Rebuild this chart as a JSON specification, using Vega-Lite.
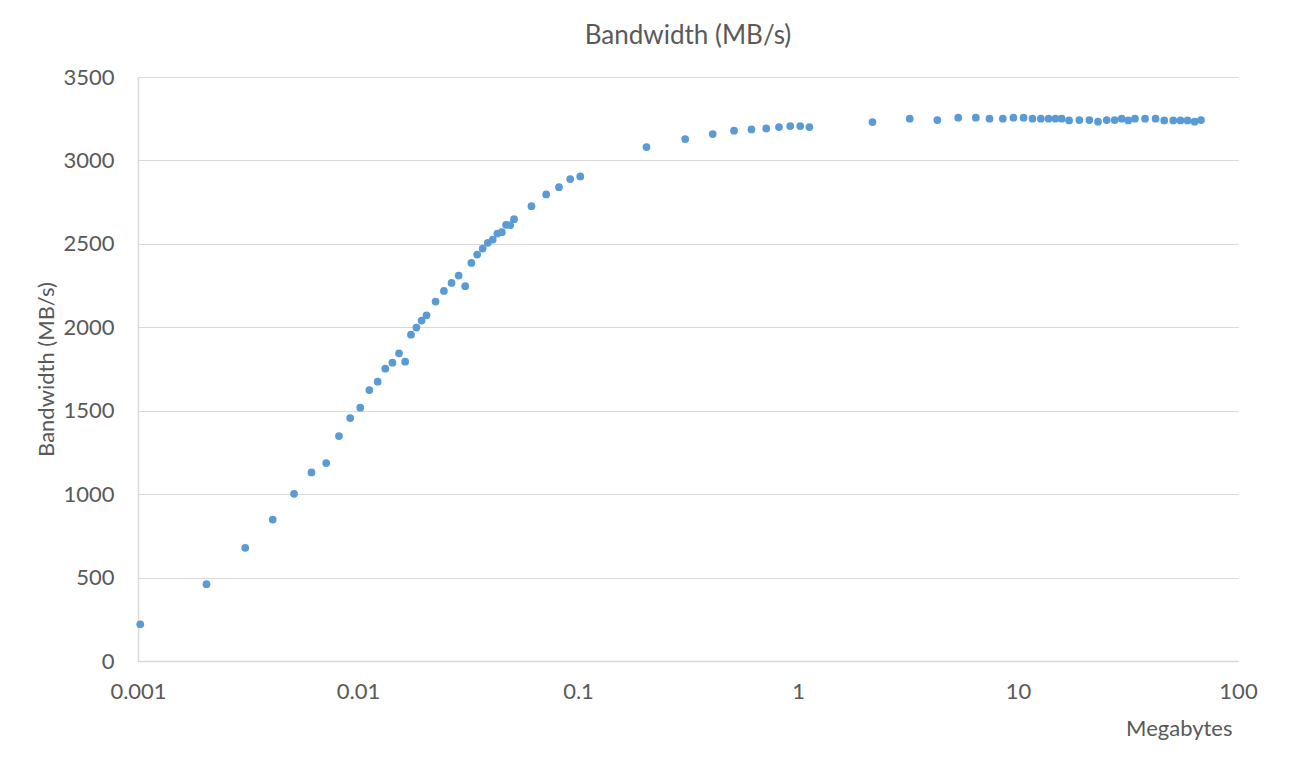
{
  "$schema": "https://vega.github.io/schema/vega-lite/v6.json",
  "autosize": {"type": "none"},
  "padding": {"left": 138, "top": 77, "right": 74, "bottom": 97},
  "width": 1100,
  "height": 584,
  "background": "white",
  "config": {
    "font": "Lato",
    "view": {"stroke": null},
    "axis": {"labelColor": "#595959", "titleColor": "#595959", "labelFont": "Lato", "titleFont": "Lato", "titleFontWeight": "normal"},
    "title": {"color": "#595959", "font": "Lato", "fontWeight": "normal"}
  },
  "title": {"text": "Bandwidth (MB/s)", "fontSize": 26, "anchor": "middle", "offset": 17},
  "data": {"values": [
    {"mb": 0.001024, "bw": 220},
    {"mb": 0.002048, "bw": 460},
    {"mb": 0.003072, "bw": 678},
    {"mb": 0.004096, "bw": 848},
    {"mb": 0.00512, "bw": 1002},
    {"mb": 0.006144, "bw": 1130},
    {"mb": 0.007168, "bw": 1186},
    {"mb": 0.008192, "bw": 1348},
    {"mb": 0.009216, "bw": 1456},
    {"mb": 0.01024, "bw": 1518},
    {"mb": 0.011264, "bw": 1624},
    {"mb": 0.012288, "bw": 1674},
    {"mb": 0.013312, "bw": 1752},
    {"mb": 0.014336, "bw": 1788},
    {"mb": 0.01536, "bw": 1844},
    {"mb": 0.016384, "bw": 1794},
    {"mb": 0.017408, "bw": 1956},
    {"mb": 0.018432, "bw": 1998},
    {"mb": 0.019456, "bw": 2040},
    {"mb": 0.02048, "bw": 2072},
    {"mb": 0.022528, "bw": 2154},
    {"mb": 0.024576, "bw": 2218},
    {"mb": 0.026624, "bw": 2266},
    {"mb": 0.028672, "bw": 2310},
    {"mb": 0.03072, "bw": 2246},
    {"mb": 0.032768, "bw": 2386},
    {"mb": 0.034816, "bw": 2436},
    {"mb": 0.036864, "bw": 2472},
    {"mb": 0.038912, "bw": 2506},
    {"mb": 0.04096, "bw": 2526},
    {"mb": 0.043008, "bw": 2562},
    {"mb": 0.045056, "bw": 2570},
    {"mb": 0.047104, "bw": 2614},
    {"mb": 0.049152, "bw": 2612},
    {"mb": 0.0512, "bw": 2648},
    {"mb": 0.06144, "bw": 2726},
    {"mb": 0.07168, "bw": 2796},
    {"mb": 0.08192, "bw": 2840},
    {"mb": 0.09216, "bw": 2888},
    {"mb": 0.1024, "bw": 2904},
    {"mb": 0.2048, "bw": 3080},
    {"mb": 0.3072, "bw": 3128},
    {"mb": 0.4096, "bw": 3158},
    {"mb": 0.512, "bw": 3178},
    {"mb": 0.6144, "bw": 3186},
    {"mb": 0.7168, "bw": 3192},
    {"mb": 0.8192, "bw": 3200},
    {"mb": 0.9216, "bw": 3206},
    {"mb": 1.024, "bw": 3206},
    {"mb": 1.1264, "bw": 3200},
    {"mb": 2.18, "bw": 3230},
    {"mb": 3.22, "bw": 3250},
    {"mb": 4.3, "bw": 3242},
    {"mb": 5.35, "bw": 3256},
    {"mb": 6.43, "bw": 3256},
    {"mb": 7.42, "bw": 3250},
    {"mb": 8.53, "bw": 3250},
    {"mb": 9.53, "bw": 3256},
    {"mb": 10.6, "bw": 3256},
    {"mb": 11.64, "bw": 3250},
    {"mb": 12.7, "bw": 3250},
    {"mb": 13.77, "bw": 3250},
    {"mb": 14.8, "bw": 3250},
    {"mb": 15.8, "bw": 3250},
    {"mb": 17.07, "bw": 3240},
    {"mb": 19.0, "bw": 3242},
    {"mb": 21.1, "bw": 3242},
    {"mb": 23.1, "bw": 3232},
    {"mb": 25.3, "bw": 3242},
    {"mb": 27.5, "bw": 3242},
    {"mb": 29.6, "bw": 3250},
    {"mb": 31.7, "bw": 3240},
    {"mb": 34.0, "bw": 3250},
    {"mb": 37.8, "bw": 3250},
    {"mb": 42.2, "bw": 3250},
    {"mb": 46.2, "bw": 3240},
    {"mb": 50.8, "bw": 3240},
    {"mb": 54.8, "bw": 3240},
    {"mb": 59.0, "bw": 3240},
    {"mb": 63.5, "bw": 3232},
    {"mb": 67.9, "bw": 3242}
  ]},
  "mark": {"type": "point", "filled": true, "shape": "circle", "size": 60, "color": "#5b9bd5", "opacity": 1},
  "encoding": {
    "x": {
      "field": "mb", "type": "quantitative",
      "scale": {"type": "log", "domain": [0.001, 100], "nice": false},
      "axis": {
        "title": "Megabytes", "titleFontSize": 22, "titleAnchor": "end", "titleAlign": "right", "titleX": 1094, "titleY": 67, "titleBaseline": "middle",
        "values": [0.001, 0.01, 0.1, 1, 10, 100], "format": "~g",
        "labelFontSize": 22, "labelPadding": 20, "ticks": false, "grid": false,
        "domainColor": "#d9d9d9", "domainWidth": 1.5, "labelFlush": false, "labelOverlap": false
      }
    },
    "y": {
      "field": "bw", "type": "quantitative",
      "scale": {"domain": [0, 3500], "nice": false},
      "axis": {
        "title": "Bandwidth (MB/s)", "titleFontSize": 22, "titleX": -92, "titleY": 292, "titleAngle": -90, "titleAlign": "center", "titleBaseline": "middle",
        "values": [0, 500, 1000, 1500, 2000, 2500, 3000, 3500], "format": "d",
        "labelFontSize": 22, "labelPadding": 24, "ticks": false,
        "grid": true, "gridColor": "#d9d9d9", "gridWidth": 1.2,
        "domainColor": "#d9d9d9", "domainWidth": 1.5
      }
    }
  }
}
